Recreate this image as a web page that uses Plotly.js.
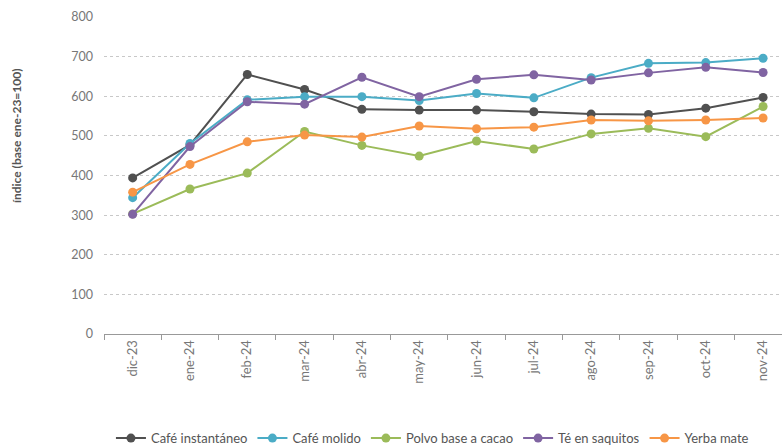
<!DOCTYPE html>
<html>
<head>
<meta charset="utf-8">
<script src="https://cdn.plot.ly/plotly-3.0.1.min.js"></script>
<style>html,body{margin:0;padding:0;background:#fff;}#chart{width:782px;height:448px;}</style>
</head>
<body>
<div id="chart"></div>
<script>
const months = ["dic-23","ene-24","feb-24","mar-24","abr-24","may-24","jun-24","jul-24","ago-24","sep-24","oct-24","nov-24"];
const cafeInstantaneo = [394, 477, 655, 617, 567, 565, 565, 561, 555, 554, 570, 597];
const cafeMolido      = [344, 481, 591, 599, 599, 589, 607, 596, 647, 683, 685, 696];
const polvoCacao      = [303, 366, 406, 511, 476, 449, 487, 467, 505, 519, 498, 574];
const teSaquitos      = [302, 473, 586, 580, 648, 599, 643, 654, 641, 659, 673, 660];
const yerbaMate       = [358, 428, 485, 502, 497, 525, 518, 522, 540, 538, 540, 545];

const seriesNames = ["Café instantáneo","Café molido","Polvo base a cacao","Té en saquitos","Yerba mate"];
const seriesData = [cafeInstantaneo, cafeMolido, polvoCacao, teSaquitos, yerbaMate];
const colors = ["#505050","#4bacc6","#9bbb59","#8064a2","#f79646"];
const yTitle = "índice (base ene-23=100)";

const traces = seriesData.map((d, i) => ({
  x: months, y: d, name: seriesNames[i], type: "scatter", mode: "lines+markers",
  line: {color: colors[i], width: 2}, marker: {color: colors[i], size: 9}
}));

const layout = {
  width: 782, height: 448,
  margin: {l: 104, r: 0, t: 17, b: 114},
  paper_bgcolor: "#fff", plot_bgcolor: "#fff",
  font: {family: "Lato, 'Open Sans', sans-serif", size: 11, color: "#666"},
  showlegend: true,
  legend: {orientation: "h", xref: "container", yref: "container", x: 0.553, xanchor: "center",
           y: 0.022, yanchor: "middle", font: {size: 13, color: "#555"}, itemwidth: 30, tracegroupgap: 0},
  xaxis: {type: "category", range: [-0.5, 11.33], tickangle: -90, showgrid: false,
          showline: true, linecolor: "#999", linewidth: 1, ticks: "outside", tickson: "boundaries",
          ticklen: 5, tickcolor: "#999", tickfont: {size: 13, color: "#777"}, zeroline: false, automargin: false},
  yaxis: {range: [0, 800], dtick: 100, showgrid: true, gridcolor: "#c8c8c8", griddash: "dot",
          gridwidth: 1, zeroline: true, zerolinecolor: "#999", zerolinewidth: 1, showline: false,
          ticks: "", ticklabelstandoff: 10, tickfont: {size: 12.5, color: "#777"}, automargin: false},
  annotations: [{text: yTitle, xref: "paper", yref: "paper", x: -0.128, y: 0.625,
                 xanchor: "center", yanchor: "middle", textangle: -90, showarrow: false,
                 font: {size: 12, color: "#555", weight: "bold"}}]
};

Plotly.newPlot("chart", traces, layout, {displayModeBar: false, staticPlot: true});
</script>
</body>
</html>
